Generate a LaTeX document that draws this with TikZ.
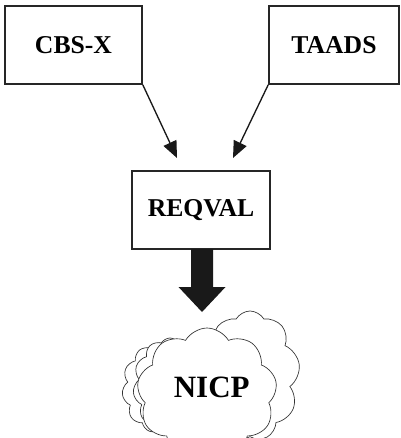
\documentclass[tikz,border=0pt]{standalone}
\usepackage{fontspec}
\setmainfont{Liberation Serif}
\usetikzlibrary{arrows.meta,shapes.symbols}

\tikzset{
  sysbox/.style={draw=black!85, line width=1.2pt, minimum height=58.5pt,
    inner sep=0pt, font=\bfseries\fontsize{19.25}{21}\selectfont},
  feed/.style={draw=black!90, line width=1pt,
    -{Triangle[length=12.5pt,width=10.5pt]}},
  puff/.style={cloud, cloud puffs=9, cloud puff arc=120, cloud ignores aspect,
    draw=black!80, line width=0.5pt, fill=white, inner sep=0pt},
  bigarrow/.style={fill=black!90, draw=none},
}

\begin{document}
\begin{tikzpicture}[x=0.75pt, y=-0.75pt]
  \useasboundingbox (0,0) rectangle (400,438);
  \clip (0,0) rectangle (400,438);

  % source systems
  \node[sysbox, minimum width=102.75pt] (cbsx) at (73.5,45) {CBS-X};
  \node[sysbox, minimum width=97.5pt] (taads) at (334,45) {TAADS};

  % validation step
  \node[sysbox, minimum width=103.5pt] (reqval) at (201,210) {REQVAL};

  % arrow tips stop just above the validation box
  \coordinate (tipL) at (177,158);
  \coordinate (tipR) at (233,158);
  \draw[feed] (cbsx.south east) -- (tipL);
  \draw[feed] (taads.south west) -- (tipR);

  % heavy output arrow, relative to the bottom of the validation box
  \coordinate (out) at (202,249);
  \fill[bigarrow] (out) +(-11,0) -- +(11,0) -- +(11,38) -- +(23.5,38)
    -- +(0,63) -- +(-23.5,38) -- +(-11,38) -- cycle;

  % layered cloud
  \node[puff, minimum width=75pt, minimum height=97.5pt] (cloudR) at (250,376) {};
  \node[puff, cloud puffs=11, minimum width=57pt, minimum height=67.5pt] (cloudL1) at (160,388) {};
  \node[puff, cloud puffs=11, minimum width=55.5pt, minimum height=72pt] (cloudL2) at (170,386) {};
  \node[puff, minimum width=105pt, minimum height=97.5pt] (cloudF) at (207,393) {};
  \node[font=\bfseries\fontsize{23.25}{25}\selectfont, inner sep=0pt] (nicp) at (211.7,387) {NICP};
\end{tikzpicture}
\end{document}
